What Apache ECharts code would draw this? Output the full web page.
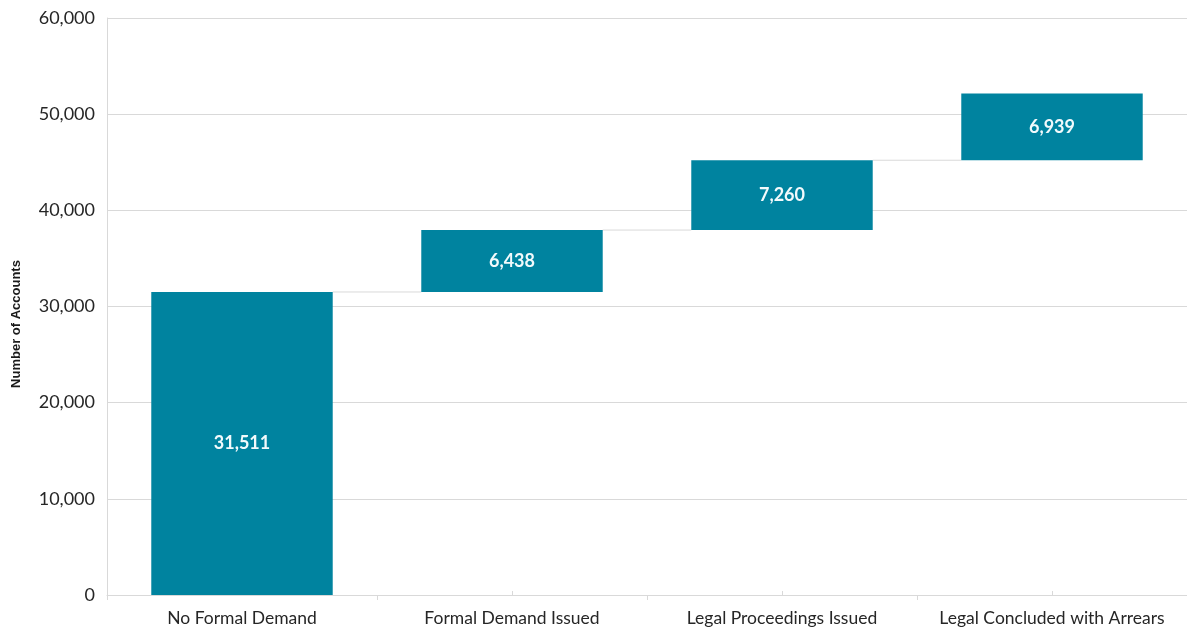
<!DOCTYPE html>
<html>
<head>
<meta charset="utf-8">
<script src="https://cdn.jsdelivr.net/npm/echarts@6/dist/echarts.min.js"></script>
<style>
  html, body { margin: 0; padding: 0; background: #ffffff; }
  #chart { width: 1187px; height: 630px; }
</style>
</head>
<body>
<div id="chart"></div>
<script>
// Waterfall of account stages
const categories = ['No Formal Demand', 'Formal Demand Issued', 'Legal Proceedings Issued', 'Legal Concluded with Arrears'];
const stepValues = [31511, 6438, 7260, 6939];
const yTicks = [0, 10000, 20000, 30000, 40000, 50000, 60000];

// invisible base for each step = running total before it
const baseValues = [];
let running = 0;
stepValues.forEach(v => { baseValues.push(running); running += v; });
// connector levels: top of each bar except the last
const connectorData = stepValues.slice(0, -1).map((v, i) => [i, baseValues[i] + v]);

const BAR_COLOR = '#00839F';
const GRID_COLOR = '#d9d9d9';
const BAR_RATIO = 0.672;

const chart = echarts.init(document.getElementById('chart'));
chart.setOption({
  animation: false,
  grid: { left: 107, right: -3, top: 18, bottom: 35 },
  graphic: [{
    type: 'text',
    x: 16,
    y: 324,
    rotation: Math.PI / 2,
    style: {
      text: 'Number of Accounts',
      fill: '#1a1a1a',
      font: 'bold 13px "Liberation Sans"',
      textAlign: 'center',
      textVerticalAlign: 'middle'
    }
  }],
  xAxis: [{
    type: 'category',
    data: categories,
    axisLine: { lineStyle: { color: GRID_COLOR, width: 1 } },
    axisTick: { show: true, length: 5, lineStyle: { color: GRID_COLOR } },
    axisLabel: { color: '#262626', fontFamily: 'Lato', fontSize: 17.5, margin: 14, interval: 0 }
  }, {
    type: 'category',
    data: categories,
    position: 'bottom',
    axisLine: { show: false },
    axisTick: { show: true, alignWithLabel: true, inside: true, length: 4, lineStyle: { color: GRID_COLOR } },
    axisLabel: { show: false }
  }],
  yAxis: {
    type: 'value',
    min: yTicks[0],
    max: yTicks[yTicks.length - 1],
    interval: yTicks[1] - yTicks[0],
    axisLine: { show: true, lineStyle: { color: GRID_COLOR } },
    axisTick: { show: false },
    splitLine: { lineStyle: { color: GRID_COLOR, width: 1 } },
    axisLabel: {
      color: '#262626', fontFamily: 'Lato', fontSize: 18, margin: 12,
      formatter: v => v.toLocaleString('en-US')
    }
  },
  series: [{
    type: 'bar',
    stack: 'wf',
    data: baseValues,
    barWidth: (BAR_RATIO * 100) + '%',
    itemStyle: { color: 'transparent' },
    silent: true
  }, {
    type: 'bar',
    stack: 'wf',
    data: stepValues,
    barWidth: (BAR_RATIO * 100) + '%',
    itemStyle: { color: BAR_COLOR },
    label: {
      show: true,
      position: 'inside',
      color: '#f2fafc',
      fontFamily: 'Lato',
      fontWeight: 'bold',
      fontSize: 18,
      formatter: p => p.value.toLocaleString('en-US')
    }
  }, {
    type: 'custom',
    data: connectorData,
    encode: { x: 0, y: 1 },
    z: 1,
    renderItem: (params, api) => {
      const i = api.value(0);
      const level = api.value(1);
      const p1 = api.coord([i, level]);
      const p2 = api.coord([i + 1, level]);
      const bw = api.size([1, 0])[0];
      return {
        type: 'line',
        shape: { x1: p1[0] + bw * BAR_RATIO / 2, y1: p1[1], x2: p2[0] - bw * BAR_RATIO / 2, y2: p2[1] },
        style: { stroke: GRID_COLOR, lineWidth: 1 }
      };
    }
  }]
});
</script>
</body>
</html>
